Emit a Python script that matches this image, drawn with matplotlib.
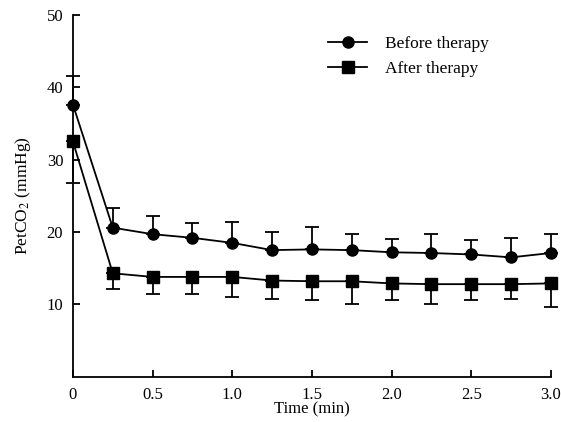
import matplotlib
matplotlib.use("Agg")
import matplotlib.pyplot as plt
from matplotlib.lines import Line2D

plt.rcParams["font.family"] = ["Liberation Serif", "DejaVu Serif"]
plt.rcParams["mathtext.fontset"] = "stix"

# ---- data ----
time = [0, 0.25, 0.5, 0.75, 1.0, 1.25, 1.5, 1.75, 2.0, 2.25, 2.5, 2.75, 3.0]
before = [37.6, 20.6, 19.7, 19.2, 18.5, 17.5, 17.6, 17.5, 17.2, 17.1, 16.9, 16.5, 17.1]
before_err = [3.9, 2.7, 2.5, 2.1, 2.9, 2.5, 3.1, 2.2, 1.8, 2.6, 2.0, 2.7, 2.6]
after = [32.5, 14.3, 13.8, 13.8, 13.8, 13.3, 13.2, 13.2, 12.9, 12.8, 12.8, 12.8, 12.9]
after_err = [5.7, 2.2, 2.4, 2.4, 2.8, 2.5, 2.6, 3.2, 2.3, 2.8, 2.2, 2.1, 3.2]

xticks = [0, 0.5, 1.0, 1.5, 2.0, 2.5, 3.0]
xticklabels = ["0", "0.5", "1.0", "1.5", "2.0", "2.5", "3.0"]
yticks = [10, 20, 30, 40, 50]

fig = plt.figure(figsize=(5.61, 4.22), dpi=100)
ax = fig.add_axes([0.130, 0.107, 0.852, 0.858])

zeros = [0] * len(time)
ax.errorbar(time, before, yerr=[zeros, before_err], color="black", lw=1.3,
            marker="o", markersize=8, capsize=5, elinewidth=1.3, capthick=1.3,
            clip_on=False, zorder=3)
ax.errorbar(time, after, yerr=[after_err, zeros], color="black", lw=1.3,
            marker="s", markersize=8, capsize=5, elinewidth=1.3, capthick=1.3,
            clip_on=False, zorder=3)

ax.set_xlim(0, 3.0)
ax.set_ylim(0, 50)
ax.set_xticks(xticks)
ax.set_xticklabels(xticklabels)
ax.set_yticks(yticks)

for side in ("top", "right"):
    ax.spines[side].set_visible(False)
for side in ("left", "bottom"):
    ax.spines[side].set_linewidth(1.3)

ax.tick_params(direction="in", length=5, width=1.3, labelsize=12)
ax.tick_params(axis="x", pad=7)
ax.tick_params(axis="y", pad=7)

ax.set_xlabel("Time (min)", fontsize=12, labelpad=-1)
ax.set_ylabel("PetCO$_2$ (mmHg)", fontsize=12.5, labelpad=10)

handles = [
    Line2D([], [], color="black", lw=1.3, marker="o", markersize=8),
    Line2D([], [], color="black", lw=1.3, marker="s", markersize=8),
]
ax.legend(handles, ["Before therapy", "After therapy"], loc="upper left",
          bbox_to_anchor=(0.5, 0.985), frameon=False, fontsize=12.5,
          handlelength=2.3, handletextpad=1.0, labelspacing=0.5)

fig.savefig("out.png", dpi=100)
